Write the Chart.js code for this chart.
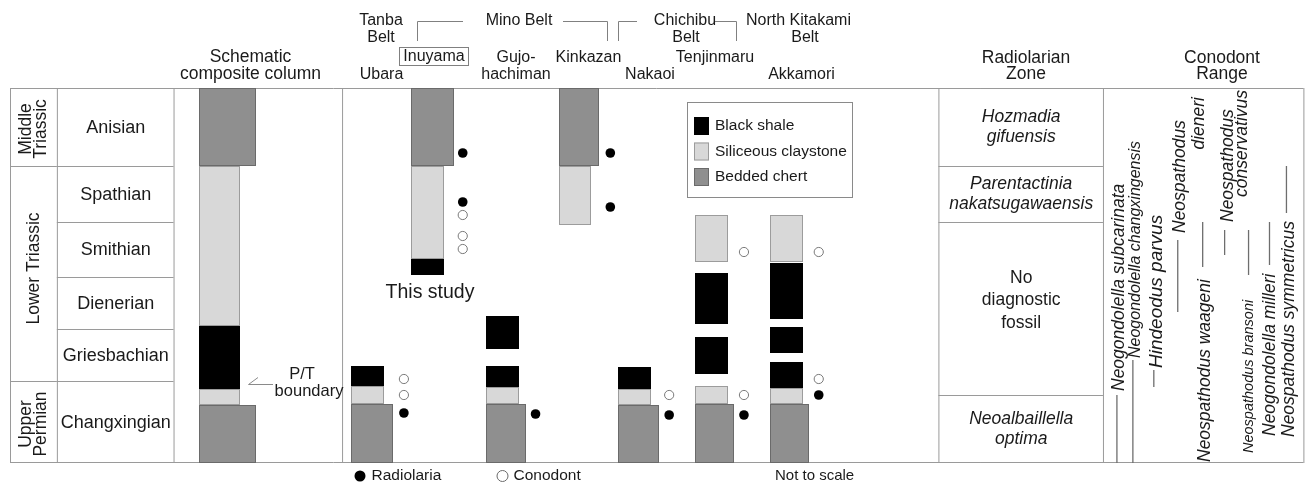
<!DOCTYPE html>
<html>
<head>
<meta charset="utf-8">
<script src="https://cdn.jsdelivr.net/npm/chart.js@4"></script>
<style>
  html, body { margin: 0; padding: 0; background: #fff; }
  #wrap { width: 1309px; height: 483px; }
</style>
</head>
<body>
<div id="wrap"><canvas id="chart" width="1309" height="483"></canvas></div>
<script>
// stratigraphic height, relative units (not to scale)
const stages = ['Changxingian', 'Griesbachian', 'Dienerian', 'Smithian', 'Spathian', 'Anisian'];
const stageBase = [0, 82, 134, 186, 241, 297];
const columnTop = 375;
const series = [['Upper', 'Permian'], ['Lower Triassic'], ['Middle', 'Triassic']];
const seriesBase = [0, 82, 297];

const sites = ['Composite', 'Ubara', 'Inuyama', 'Gujo-hachiman', 'Kinkazan', 'Nakaoi', 'Tenjinmaru', 'Akkamori'];

// [site, bottom, top]
const beddedChert = [[0, 0, 58], [0, 297, 375], [1, 0, 59], [2, 297, 375], [3, 0, 59], [4, 297, 375],
  [5, 0, 58], [6, 0, 59], [7, 0, 59]];
const siliceousClaystone = [[0, 58, 74], [0, 137, 297], [1, 59, 77], [2, 204, 297], [3, 59, 76], [4, 238, 297],
  [5, 58, 74], [6, 59, 77], [6, 201, 248], [7, 59, 75], [7, 201, 248]];
const blackShale = [[0, 74, 137], [1, 77, 97], [2, 188, 204], [3, 76, 97], [3, 114, 147], [5, 74, 96],
  [6, 89, 126], [6, 139, 190], [7, 75, 101], [7, 110, 136], [7, 144, 200]];

// [site, level]
const radiolaria = [[1, 50], [2, 310], [2, 261], [3, 49], [4, 310], [4, 256], [5, 48], [6, 48], [7, 68]];
const conodont = [[1, 84], [1, 68], [2, 248], [2, 227], [2, 214], [5, 68], [6, 211], [6, 68], [7, 211], [7, 84]];

const radiolarianZones = [['Neoalbaillella', 'optima'], ['No', 'diagnostic', 'fossil'],
  ['Parentactinia', 'nakatsugawaensis'], ['Hozmadia', 'gifuensis']];
const zoneBase = [0, 68, 241, 297];

const conodontTaxa = ['Neogondolella subcarinata', 'Neogondolella changxingensis', 'Hindeodus parvus',
  'Neospathodus dieneri', 'Neospathodus waageni', 'Neospathodus conservativus', 'Neospathodus bransoni',
  'Neogondolella milleri', 'Neospathodus symmetricus'];
const conodontRange = [[0, 68], [0, 103], [76, 93], [151, 223], [196, 241], [208, 233], [188, 233], [198, 241], [250, 297]];

// ---- layout ----
const colLeft = [200, 352, 412, 487, 561, 620, 697, 772];
const colNarrow = [41, 33, 33, 33, 32, 33, 33, 33];
const colWide = [57, 42, 43, 40, 40, 41, 39, 39];
const markX = [null, 405, 464, 537, 612, 671, 746, 821];
const rangeX = [1120, 1136, 1157, 1181, 1206, 1228, 1252, 1273, 1290];

const FONT = '"Liberation Sans", Arial, Helvetica, sans-serif';
const INK = '#1a1a1a';
const RULE = '#9a9a9a';
const fills = { chert: '#8f8f8f', clay: '#d8d8d8', shale: '#000000' };
const edges = { chert: '#6a6a6a', clay: '#9c9c9c', shale: '#000000' };

function label(ctx, str, x, y, size, opt) {
  opt = opt || {};
  ctx.save();
  ctx.font = (opt.italic ? 'italic ' : '') + size + 'px ' + FONT;
  ctx.fillStyle = INK;
  ctx.textAlign = opt.align || 'center';
  ctx.textBaseline = 'middle';
  if (opt.rotate) {
    ctx.translate(x, y);
    ctx.rotate(-Math.PI / 2);
    ctx.fillText(str, 0, 0);
  } else {
    ctx.fillText(str, x, y);
  }
  ctx.restore();
}

function line(ctx, pts, color, w) {
  ctx.save();
  ctx.strokeStyle = color || RULE;
  ctx.lineWidth = w || 1;
  ctx.beginPath();
  pts.forEach((p, i) => i ? ctx.lineTo(p[0], p[1]) : ctx.moveTo(p[0], p[1]));
  ctx.stroke();
  ctx.restore();
}

function box(ctx, x, y, w, h, fill, edge) {
  ctx.fillStyle = fill;
  ctx.fillRect(x, y, w, h);
  ctx.strokeStyle = edge;
  ctx.lineWidth = 1;
  ctx.strokeRect(x + 0.5, y + 0.5, w - 1, h - 1);
}

const columnsPlugin = {
  id: 'columns',
  beforeDatasetsDraw(chart) {
    const ctx = chart.ctx;
    const xs = chart.scales.x, ys = chart.scales.y;
    const Y = v => ys.getPixelForValue(v);
    const X = v => xs.getPixelForValue(v);
    const top = Y(columnTop), bot = Y(0);
    const L = X(10), R = X(1307);

    // frame and table rules
    line(ctx, [[L, top + 0.5], [R, top + 0.5]]);
    line(ctx, [[L, bot - 0.5], [R, bot - 0.5]]);
    [10, 57, 174, 343, 941, 1106, 1307].forEach(x => line(ctx, [[X(x) + 0.5, top], [X(x) + 0.5, bot]]));
    stageBase.slice(1).forEach(v => line(ctx, [[X(57), Y(v) + 0.5], [X(174), Y(v) + 0.5]]));
    seriesBase.slice(1).forEach(v => line(ctx, [[L, Y(v) + 0.5], [X(57), Y(v) + 0.5]]));
    zoneBase.slice(1).forEach(v => line(ctx, [[X(941), Y(v) + 0.5], [X(1106), Y(v) + 0.5]]));

    // stage and series names
    stages.forEach((s, i) => {
      const hi = i + 1 < stageBase.length ? stageBase[i + 1] : columnTop;
      label(ctx, s, X(116), (Y(stageBase[i]) + Y(hi)) / 2 + 1, 18);
    });
    series.forEach((lines, i) => {
      const hi = i + 1 < seriesBase.length ? seriesBase[i + 1] : columnTop;
      const cy = (Y(seriesBase[i]) + Y(hi)) / 2 + (lines.length === 1 ? -5 : 2);
      lines.forEach((t, k) => label(ctx, t, X(34) + (k - (lines.length - 1) / 2) * 15, cy, 17.5, { rotate: true }));
    });

    // radiolarian zones
    radiolarianZones.forEach((lines, i) => {
      const hi = i + 1 < zoneBase.length ? zoneBase[i + 1] : columnTop;
      const italic = lines[0] !== 'No';
      const gap = italic ? 19.5 : 22.5;
      const cy = (Y(zoneBase[i]) + Y(hi)) / 2 + (italic ? 0 : -8);
      lines.forEach((t, k) => label(ctx, t, X(1024), cy + (k - (lines.length - 1) / 2) * gap, 17.5, { italic }));
    });

    // lithology columns
    const drawSet = (set, kind) => set.forEach(([s, lo, hi]) => {
      const w = kind === 'chert' ? colWide[s] : colNarrow[s];
      const y0 = Math.round(Y(hi)), y1 = Math.round(Y(lo));
      box(ctx, Math.round(X(colLeft[s])), y0, w, y1 - y0, fills[kind], edges[kind]);
    });
    drawSet(beddedChert, 'chert');
    drawSet(siliceousClaystone, 'clay');
    drawSet(blackShale, 'shale');

    // conodont ranges
    conodontRange.forEach(([lo, hi], i) => line(ctx, [[X(rangeX[i]), Y(lo)], [X(rangeX[i]), Y(hi)]], '#6e6e6e', 1.3));
  },
  afterDatasetsDraw(chart) {
    const ctx = chart.ctx;
    // column headings
    label(ctx, 'Schematic', 250.5, 57, 17.5);
    label(ctx, 'composite column', 250.5, 74, 17.5);
    label(ctx, 'Radiolarian', 1026, 58, 17.5);
    label(ctx, 'Zone', 1026, 74, 17.5);
    label(ctx, 'Conodont', 1222, 58, 17.5);
    label(ctx, 'Range', 1222, 74, 17.5);

    // belts and localities
    label(ctx, 'Tanba', 381, 21, 16); label(ctx, 'Belt', 381, 37.5, 16);
    label(ctx, 'Mino Belt', 519, 21, 16);
    label(ctx, 'Chichibu', 685, 21, 16); label(ctx, 'Belt', 686, 37.5, 16);
    label(ctx, 'North Kitakami', 798.5, 21, 16); label(ctx, 'Belt', 805, 37.5, 16);
    line(ctx, [[417.5, 41], [417.5, 21.5], [463, 21.5]], '#808080');
    line(ctx, [[563, 21.5], [607.5, 21.5], [607.5, 41]], '#808080');
    line(ctx, [[618.5, 41], [618.5, 21.5], [637, 21.5]], '#808080');
    line(ctx, [[715, 21.5], [736.5, 21.5], [736.5, 41]], '#808080');
    ctx.strokeStyle = '#808080'; ctx.lineWidth = 1;
    ctx.strokeRect(399.5, 47.5, 69, 18);
    label(ctx, 'Inuyama', 434, 57, 16);
    label(ctx, 'Ubara', 381.5, 75, 16);
    label(ctx, 'Gujo-', 516, 57.5, 16); label(ctx, 'hachiman', 516, 75, 16);
    label(ctx, 'Kinkazan', 588.5, 57.5, 16);
    label(ctx, 'Nakaoi', 650, 75, 16);
    label(ctx, 'Tenjinmaru', 715, 57.5, 16);
    label(ctx, 'Akkamori', 801.5, 75, 16);

    label(ctx, 'This study', 430, 293, 19.5);
    label(ctx, 'P/T', 302, 374, 16.5);
    label(ctx, 'boundary', 309, 391, 16.5);
    line(ctx, [[258, 377.5], [248.5, 384.5], [273, 384.5]], '#8a8a8a');

    // lithology key
    ctx.strokeStyle = '#8a8a8a'; ctx.lineWidth = 1;
    ctx.strokeRect(687.5, 102.5, 165, 95);
    [['shale', 'Black shale'], ['clay', 'Siliceous claystone'], ['chert', 'Bedded chert']].forEach(([k, t], i) => {
      box(ctx, 694, 117 + i * 25.5, 15, 18, fills[k], k === 'shale' ? '#000' : edges[k]);
      label(ctx, t, 715, 126 + i * 25.5, 15.5, { align: 'left' });
    });

    // fossil key
    ctx.fillStyle = '#000';
    ctx.beginPath(); ctx.arc(360, 476, 5.5, 0, Math.PI * 2); ctx.fill();
    label(ctx, 'Radiolaria', 371.5, 476, 15.5, { align: 'left' });
    ctx.strokeStyle = '#6a6a6a';
    ctx.beginPath(); ctx.arc(502.5, 476, 5.5, 0, Math.PI * 2); ctx.stroke();
    label(ctx, 'Conodont', 513.5, 476, 15.5, { align: 'left' });
    label(ctx, 'Not to scale', 775, 476, 15, { align: 'left' });

    // conodont taxa, read bottom to top
    const r = { rotate: true, italic: true, align: 'left' };
    label(ctx, conodontTaxa[0], 1119, 391, 17.5, r);
    label(ctx, conodontTaxa[1], 1136, 358, 16, r);
    label(ctx, conodontTaxa[2], 1157, 368, 19, r);
    label(ctx, 'Neospathodus', 1180, 233, 17.5, r);
    label(ctx, 'dieneri', 1199, 97, 17.5, { rotate: true, italic: true, align: 'right' });
    label(ctx, conodontTaxa[4], 1205, 462, 17.5, r);
    label(ctx, 'Neospathodus', 1228, 222, 17.5, r);
    label(ctx, 'conservativus', 1242, 90, 17.5, { rotate: true, italic: true, align: 'right' });
    label(ctx, conodontTaxa[6], 1249, 453, 14.5, r);
    label(ctx, conodontTaxa[7], 1270, 436, 17.5, r);
    label(ctx, conodontTaxa[8], 1289, 437, 17.5, r);
  }
};

const pointsOf = list => list.map(([s, y]) => ({ x: markX[s], y }));

new Chart(document.getElementById('chart'), {
  type: 'scatter',
  data: {
    datasets: [
      { label: 'Radiolaria', data: pointsOf(radiolaria), pointRadius: 4.8, pointBackgroundColor: '#000',
        pointBorderColor: '#000', pointBorderWidth: 0 },
      { label: 'Conodont', data: pointsOf(conodont), pointRadius: 4.6, pointBackgroundColor: '#fff',
        pointBorderColor: '#7a7a7a', pointBorderWidth: 1 }
    ]
  },
  options: {
    responsive: false,
    animation: false,
    events: [],
    layout: { padding: { left: 10, right: 2, top: 88, bottom: 20 } },
    scales: {
      x: { type: 'linear', min: 10, max: 1307, display: false },
      y: { type: 'linear', min: 0, max: columnTop, display: false }
    },
    plugins: { legend: { display: false }, tooltip: { enabled: false } }
  },
  plugins: [columnsPlugin]
});
</script>
</body>
</html>
